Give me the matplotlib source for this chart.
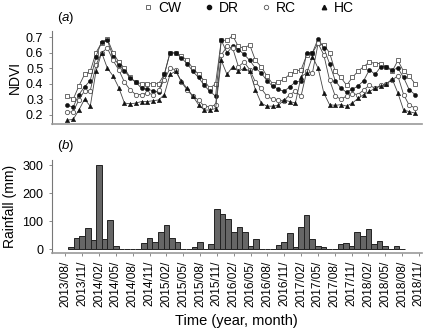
import numpy as np
import matplotlib
matplotlib.use("Agg")
import matplotlib.pyplot as plt
from matplotlib.lines import Line2D

plt.rcParams['font.family'] = ['Liberation Sans', 'DejaVu Sans']
plt.rcParams['mathtext.fontset'] = 'custom'
plt.rcParams['mathtext.it'] = 'Liberation Sans:italic'
plt.rcParams['mathtext.rm'] = 'Liberation Sans'

# NDVI, monthly from 2013/09 to 2018/10
cw = [0.32, 0.30, 0.385, 0.46, 0.48, 0.60, 0.665, 0.69, 0.60, 0.54, 0.50, 0.44, 0.41, 0.40, 0.40, 0.40,
      0.40, 0.46, 0.60, 0.595, 0.58, 0.55, 0.50, 0.46, 0.42, 0.37, 0.40, 0.68, 0.68, 0.71, 0.64, 0.63,
      0.65, 0.55, 0.51, 0.45, 0.40, 0.41, 0.43, 0.46, 0.48, 0.49, 0.585, 0.60, 0.66, 0.65, 0.60, 0.48,
      0.44, 0.39, 0.44, 0.48, 0.51, 0.54, 0.53, 0.53, 0.51, 0.48, 0.55, 0.48, 0.45, 0.40]
dr = [0.26, 0.25, 0.33, 0.38, 0.42, 0.575, 0.67, 0.68, 0.575, 0.52, 0.485, 0.435, 0.41, 0.37, 0.365, 0.355,
      0.345, 0.46, 0.60, 0.60, 0.565, 0.53, 0.48, 0.44, 0.39, 0.35, 0.32, 0.68, 0.60, 0.64, 0.62, 0.59,
      0.55, 0.50, 0.47, 0.42, 0.385, 0.365, 0.35, 0.38, 0.41, 0.42, 0.60, 0.60, 0.69, 0.63, 0.53, 0.42,
      0.37, 0.345, 0.365, 0.385, 0.42, 0.49, 0.46, 0.51, 0.51, 0.49, 0.50, 0.44, 0.36, 0.33]
rc = [0.215, 0.22, 0.295, 0.355, 0.355, 0.52, 0.60, 0.63, 0.55, 0.49, 0.41, 0.36, 0.33, 0.33, 0.34, 0.33,
      0.36, 0.425, 0.50, 0.49, 0.41, 0.36, 0.32, 0.295, 0.255, 0.25, 0.265, 0.585, 0.64, 0.63, 0.51, 0.54,
      0.49, 0.41, 0.37, 0.32, 0.30, 0.295, 0.29, 0.33, 0.35, 0.32, 0.48, 0.47, 0.66, 0.585, 0.425, 0.32,
      0.30, 0.32, 0.335, 0.33, 0.36, 0.39, 0.37, 0.39, 0.40, 0.425, 0.45, 0.33, 0.26, 0.245]
hc = [0.165, 0.17, 0.23, 0.30, 0.255, 0.48, 0.60, 0.50, 0.45, 0.375, 0.275, 0.27, 0.275, 0.285, 0.285, 0.29,
      0.295, 0.33, 0.46, 0.48, 0.415, 0.37, 0.32, 0.265, 0.23, 0.23, 0.24, 0.55, 0.46, 0.51, 0.48, 0.50,
      0.48, 0.36, 0.275, 0.255, 0.255, 0.26, 0.295, 0.285, 0.275, 0.445, 0.47, 0.575, 0.50, 0.34, 0.265, 0.26,
      0.265, 0.255, 0.275, 0.305, 0.33, 0.35, 0.37, 0.385, 0.40, 0.43, 0.34, 0.23, 0.22, 0.21]

# rainfall (mm), monthly from 2013/09 to 2018/08
rain = [7, 39, 47, 77, 32, 300, 36, 103, 11, 0, 0, 0, 0, 22, 40, 25, 63, 86, 40, 27,
        0, 0, 8, 25, 0, 20, 145, 125, 107, 60, 79, 62, 12, 36, 0, 0, 0, 14, 25, 58,
        8, 78, 122, 37, 13, 8, 0, 2, 19, 22, 11, 60, 47, 71, 19, 28, 13, 0, 13, 0]

tick_labels = ['2013/08/', '2013/11/', '2014/02/', '2014/05/', '2014/08/', '2014/11/', '2015/02/',
               '2015/05/', '2015/08/', '2015/11/', '2016/02/', '2016/05/', '2016/08/', '2016/11/',
               '2017/02/', '2017/05/', '2017/08/', '2017/11/', '2018/02/', '2018/05/', '2018/08/',
               '2018/11/']

W, H = 426, 332
fig = plt.figure(figsize=(W / 100, H / 100), dpi=100)

def box(l, t, r, b):
    return [l / W, 1 - b / H, (r - l) / W, (b - t) / H]

ax1 = fig.add_axes(box(51.7, 31, 421.7, 124))
ax2 = fig.add_axes(box(51.7, 160, 421.7, 252.7))

m_ndvi = np.arange(1, len(cw) + 1)
m_rain = np.arange(1, len(rain) + 1)

lc = '#444444'
ax1.plot(m_ndvi, cw, color=lc, lw=0.6, marker='s', ms=3.2, mfc='white', mec='#555555', mew=0.6)
ax1.plot(m_ndvi, dr, color=lc, lw=0.6, marker='o', ms=2.9, mfc='#111111', mec='#111111', mew=0.4)
ax1.plot(m_ndvi, rc, color=lc, lw=0.6, marker='o', ms=3.1, mfc='white', mec='#555555', mew=0.6)
ax1.plot(m_ndvi, hc, color=lc, lw=0.6, marker='^', ms=3.1, mfc='#111111', mec='#111111', mew=0.4)

ax1.set_xlim(-1.77, 63.18)
ax1.set_ylim(0.14, 0.74)
ax1.set_yticks([0.2, 0.3, 0.4, 0.5, 0.6, 0.7])
ax1.set_yticklabels(['0.2', '0.3', '0.4', '0.5', '0.6', '0.7'])
ax1.set_xticks([])
ax1.set_ylabel('NDVI', fontsize=10, labelpad=3)

ax2.bar(m_rain, rain, width=1.0, color='#666666', edgecolor='#222222', linewidth=0.7)
ax2.set_xlim(-2.43, 63.5)
ax2.set_ylim(-12, 318)
ax2.set_yticks([0, 100, 200, 300])
ax2.set_xticks(np.arange(0, 3 * len(tick_labels), 3))
ax2.set_xticklabels(tick_labels, rotation=90, fontsize=8.6)
ax2.set_ylabel('Rainfall (mm)', fontsize=10, labelpad=4)
ax2.set_xlabel('Time (year, month)', fontsize=10.5, labelpad=5)

for ax in (ax1, ax2):
    for s in ('top', 'right'):
        ax.spines[s].set_visible(False)
    ax.spines['left'].set_color('#777777')
    ax.spines['bottom'].set_color('#999999')
    ax.spines['left'].set_linewidth(0.8)
    ax.spines['bottom'].set_linewidth(1.2)
    ax.tick_params(axis='both', colors='#777777', labelcolor='black', length=2.5, width=0.6, labelsize=9)
ax2.tick_params(axis='x', labelsize=8.6)

ax1.text(57 / W, 1 - 18 / H, r'($\mathit{a}$)', transform=fig.transFigure, fontsize=9.5, va='center')
ax2.text(57 / W, 1 - 146 / H, r'($\mathit{b}$)', transform=fig.transFigure, fontsize=9.5, va='center')

handles = [
    Line2D([], [], ls='none', marker='s', ms=3.2, mfc='white', mec='#555555', mew=0.6),
    Line2D([], [], ls='none', marker='o', ms=3.0, mfc='#111111', mec='#111111'),
    Line2D([], [], ls='none', marker='o', ms=3.2, mfc='white', mec='#555555', mew=0.6),
    Line2D([], [], ls='none', marker='^', ms=3.2, mfc='#111111', mec='#111111'),
]
fig.legend(handles, ['CW', 'DR', 'RC', 'HC'], loc='center', bbox_to_anchor=(248 / W, 1 - 8 / H),
           ncol=4, frameon=False, fontsize=10, handletextpad=0.3, columnspacing=1.6, handlelength=0.8)

fig.savefig('out.png', dpi=100)
